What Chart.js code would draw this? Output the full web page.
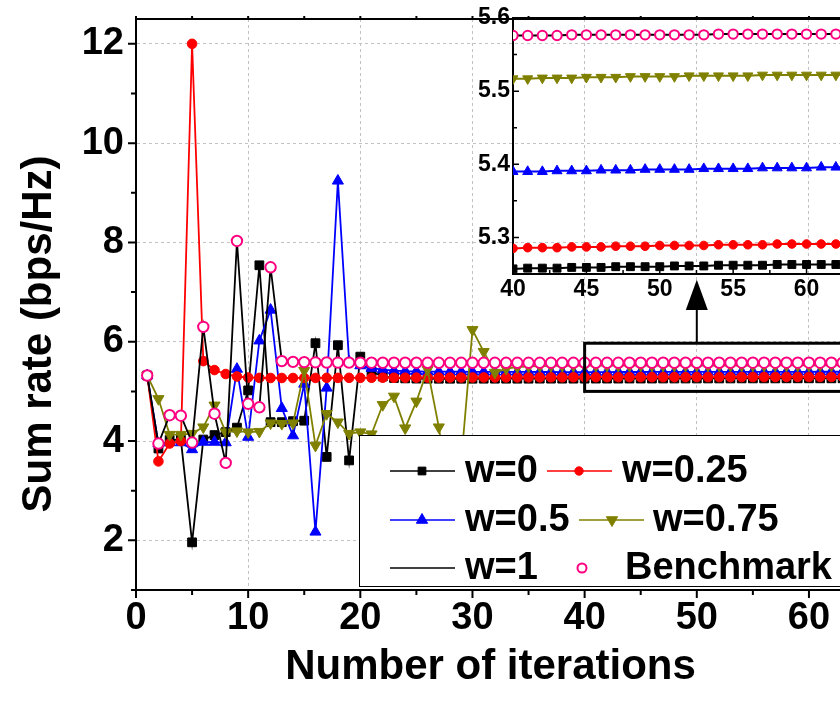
<!DOCTYPE html>
<html lang="en">
<head>
  <meta charset="utf-8" />
  <title>Sum rate vs number of iterations</title>
  <script src="https://cdn.jsdelivr.net/npm/chart.js"></script>
  <style>
    html, body { margin: 0; padding: 0; background: #fff; overflow: hidden; }
    .wrap { position: relative; width: 840px; height: 712px; overflow: hidden; }
    #mainChart { position: absolute; left: 0; top: 0; }
    #zoomChart { position: absolute; left: 430px; top: 0; }
  </style>
</head>
<body>
  <div class="wrap">
    <canvas id="mainChart" width="850" height="712"></canvas>
    <canvas id="zoomChart" width="442" height="320"></canvas>
  </div>

  <script>
    // data
    const iterations = [
      1, 2, 3, 4, 5, 6, 7, 8, 9, 10, 11, 12, 13, 14, 15, 16, 17, 18, 19, 20,
      21, 22, 23, 24, 25, 26, 27, 28, 29, 30, 31, 32, 33, 34, 35, 36, 37, 38, 39, 40,
      41, 42, 43, 44, 45, 46, 47, 48, 49, 50, 51, 52, 53, 54, 55, 56, 57, 58, 59, 60,
      61, 62, 63, 64
    ];
    const w0 = [
      5.32, 3.85, 4.02, 4.03, 1.96, 4.03, 4.12, 4.18, 4.27, 5.02,
      7.54, 4.38, 4.38, 4.40, 4.41, 5.97, 3.68, 5.93, 3.61, 5.70,
      5.40, 5.30, 5.27, 5.262, 5.258, 5.256, 5.255, 5.255, 5.255, 5.255,
      5.256, 5.256, 5.256, 5.256, 5.256, 5.257, 5.257, 5.257, 5.257, 5.257,
      5.258, 5.258, 5.258, 5.259, 5.259, 5.259, 5.260, 5.260, 5.260, 5.260,
      5.261, 5.261, 5.261, 5.262, 5.262, 5.262, 5.262, 5.263, 5.263, 5.263,
      5.263, 5.263, 5.264, 5.264
    ];
    const w025 = [
      5.32, 3.59, 3.95, 4.00, 12.0, 5.61, 5.43, 5.35, 5.30, 5.28,
      5.272, 5.270, 5.270, 5.270, 5.271, 5.271, 5.272, 5.272, 5.273, 5.273,
      5.274, 5.275, 5.275, 5.276, 5.277, 5.277, 5.278, 5.279, 5.279, 5.280,
      5.281, 5.281, 5.282, 5.282, 5.283, 5.283, 5.284, 5.284, 5.285, 5.285,
      5.286, 5.286, 5.286, 5.287, 5.287, 5.287, 5.288, 5.288, 5.288, 5.289,
      5.289, 5.289, 5.289, 5.290, 5.290, 5.290, 5.290, 5.291, 5.291, 5.291,
      5.291, 5.291, 5.292, 5.292
    ];
    const w05 = [
      5.32, 3.95, 3.97, 3.97, 3.83, 3.98, 3.98, 3.97, 5.45, 4.08,
      6.02, 6.64, 4.66, 4.11, 5.15, 2.17, 5.07, 9.24, 5.60, 5.52,
      5.47, 5.44, 5.42, 5.41, 5.405, 5.400, 5.398, 5.397, 5.396, 5.395,
      5.394, 5.393, 5.393, 5.392, 5.392, 5.391, 5.391, 5.390, 5.390, 5.390,
      5.390, 5.390, 5.391, 5.391, 5.391, 5.392, 5.392, 5.392, 5.393, 5.393,
      5.393, 5.393, 5.394, 5.394, 5.394, 5.394, 5.395, 5.395, 5.395, 5.395,
      5.396, 5.396, 5.396, 5.396
    ];
    const w075 = [
      5.32, 4.85, 4.13, 4.13, 4.15, 4.28, 4.72, 4.18, 4.20, 4.18,
      4.19, 4.36, 4.35, 4.36, 5.42, 3.91, 4.55, 4.38, 4.15, 4.18,
      4.14, 4.73, 4.90, 4.26, 4.80, 5.44, 4.28, 2.80, 3.60, 6.24,
      5.80, 5.38, 5.46, 5.49, 5.505, 5.510, 5.513, 5.515, 5.516, 5.517,
      5.517, 5.518, 5.518, 5.518, 5.519, 5.519, 5.519, 5.520, 5.520, 5.520,
      5.520, 5.521, 5.521, 5.521, 5.521, 5.521, 5.522, 5.522, 5.522, 5.522,
      5.522, 5.522, 5.523, 5.523
    ];
    const benchmark = [
      5.32, 3.95, 4.52, 4.51, 3.97, 6.30, 4.55, 3.56, 8.03, 4.75,
      4.68, 7.50, 5.61, 5.595, 5.59, 5.585, 5.582, 5.580, 5.579, 5.578,
      5.578, 5.577, 5.577, 5.577, 5.577, 5.576, 5.576, 5.576, 5.576, 5.576,
      5.576, 5.576, 5.576, 5.576, 5.576, 5.576, 5.576, 5.576, 5.576, 5.576,
      5.576, 5.576, 5.576, 5.577, 5.577, 5.577, 5.577, 5.577, 5.577, 5.577,
      5.577, 5.577, 5.577, 5.578, 5.578, 5.578, 5.578, 5.578, 5.578, 5.578,
      5.578, 5.578, 5.578, 5.578
    ];
    // the w=1 curve lies on the benchmark points
    const w1 = benchmark;

    const xTicksMain = [0, 10, 20, 30, 40, 50, 60];
    const yTicksMain = [2, 4, 6, 8, 10, 12];

    const FONT = '"Liberation Sans", Arial, Helvetica, sans-serif';
    Chart.defaults.font.family = FONT;
    Chart.defaults.font.weight = 'bold';
    Chart.defaults.color = '#000';

    const pts = arr => iterations.map((x, i) => ({ x: x, y: arr[i] }));

    function makeSets(big) {
      const k = big ? 1 : 0.9;
      const lw = big ? 1.8 : 2;
      return [
        { label: 'w=0', data: pts(w0), borderColor: '#000', backgroundColor: '#000',
          pointStyle: 'rect', pointRadius: 6.2 * k, borderWidth: lw, pointBorderWidth: 1, order: 5 },
        { label: 'w=0.25', data: pts(w025), borderColor: '#ff0000', backgroundColor: '#ff0000',
          pointStyle: 'circle', pointRadius: 4.8 * k, borderWidth: lw, pointBorderWidth: 1, order: 3 },
        { label: 'w=0.5', data: pts(w05), borderColor: '#0000ff', backgroundColor: '#0000ff',
          pointStyle: 'triangle', pointRadius: 6.4 * k, borderWidth: lw, pointBorderWidth: 1, order: 4 },
        { label: 'w=0.75', data: pts(w075), borderColor: '#808000', backgroundColor: '#808000',
          pointStyle: 'triangle', rotation: 180, pointRadius: 6.4 * k, borderWidth: lw, pointBorderWidth: 1, order: 2 },
        { label: 'w=1', data: pts(w1), borderColor: '#000', backgroundColor: '#000',
          pointRadius: 0, borderWidth: lw, order: 1 },
        { label: 'Benchmark', data: pts(benchmark), showLine: false, borderColor: '#ff0080',
          backgroundColor: '#fff', pointStyle: 'circle', pointRadius: 5.2 * k, pointBorderWidth: 2, order: 0 }
      ];
    }

    function marker(ctx, style, x, y, r, fill, stroke, lw, down) {
      ctx.beginPath();
      if (style === 'rect') {
        const h = r * Math.SQRT1_2;
        ctx.rect(x - h, y - h, 2 * h, 2 * h);
      } else if (style === 'triangle') {
        const s = down ? -1 : 1;
        ctx.moveTo(x, y - s * r);
        ctx.lineTo(x + 0.866 * r, y + s * 0.5 * r);
        ctx.lineTo(x - 0.866 * r, y + s * 0.5 * r);
        ctx.closePath();
      } else {
        ctx.arc(x, y, r, 0, Math.PI * 2);
      }
      ctx.fillStyle = fill;
      ctx.fill();
      ctx.lineWidth = lw;
      ctx.strokeStyle = stroke;
      ctx.stroke();
    }

    // frame, minor ticks, zoom box, arrow, legend and axis titles of the main plot
    const mainDecor = {
      id: 'mainDecor',
      afterDatasetsDraw(chart) {
        const ctx = chart.ctx, ca = chart.chartArea;
        const xs = chart.scales.x, ys = chart.scales.y;
        ctx.save();
        ctx.strokeStyle = '#000';
        ctx.lineWidth = 2;
        ctx.strokeRect(ca.left, ca.top, ca.right - ca.left, ca.bottom - ca.top);

        ctx.beginPath();
        xs.ticks.forEach(t => {
          if (t.value % 5 !== 0) return;
          const p = xs.getPixelForValue(t.value);
          const len = t.value % 10 === 0 ? 8 : 5;
          ctx.moveTo(p, ca.bottom); ctx.lineTo(p, ca.bottom + len);
          ctx.moveTo(p, ca.top); ctx.lineTo(p, ca.top - 3);
        });
        ys.ticks.forEach(t => {
          if (t.value % 1 !== 0) return;
          const p = ys.getPixelForValue(t.value);
          const len = t.value % 2 === 0 ? 8 : 5;
          ctx.moveTo(ca.left, p); ctx.lineTo(ca.left - len, p);
        });
        ctx.stroke();

        // zoomed region box and arrow
        const bx = xs.getPixelForValue(40), bt = ys.getPixelForValue(5.97), bb = ys.getPixelForValue(5.0);
        ctx.lineWidth = 3;
        ctx.strokeRect(bx, bt, ca.right + 20 - bx, bb - bt);
        const ax = xs.getPixelForValue(50);
        const tip = ys.getPixelForValue(7.25), base = ys.getPixelForValue(6.64);
        ctx.lineWidth = 2;
        ctx.beginPath();
        ctx.moveTo(ax, bt); ctx.lineTo(ax, base);
        ctx.stroke();
        ctx.beginPath();
        ctx.moveTo(ax, tip); ctx.lineTo(ax + 11, base); ctx.lineTo(ax - 11, base);
        ctx.closePath();
        ctx.fillStyle = '#000';
        ctx.fill();

        // legend box
        ctx.fillStyle = '#fff';
        ctx.fillRect(359, 435, 500, 151);
        ctx.lineWidth = 1;
        ctx.strokeRect(359.5, 435.5, 500, 151);
        const ds = chart.data.datasets;
        const spots = [
          { i: 0, l: 390, r: 455, m: 422, t: 465, y: 471 },
          { i: 1, l: 547, r: 612, m: 579, t: 622, y: 471 },
          { i: 2, l: 390, r: 455, m: 422, t: 465, y: 520 },
          { i: 3, l: 579, r: 644, m: 612, t: 653, y: 520 },
          { i: 4, l: 390, r: 455, m: null, t: 465, y: 568 },
          { i: 5, l: null, r: null, m: 582, t: 625, y: 568 }
        ];
        ctx.font = 'bold 38px ' + FONT;
        ctx.textBaseline = 'middle';
        ctx.textAlign = 'left';
        spots.forEach(s => {
          const d = ds[s.i];
          if (s.l !== null) {
            ctx.beginPath();
            ctx.moveTo(s.l, s.y); ctx.lineTo(s.r, s.y);
            ctx.lineWidth = 1.5;
            ctx.strokeStyle = d.borderColor;
            ctx.stroke();
          }
          if (s.m !== null) {
            const st = d.pointStyle;
            const r = st === 'rect' ? 5.5 : st === 'triangle' ? 6.5 : d.showLine === false ? 4.5 : 4.2;
            const fill = d.showLine === false ? '#fff' : d.backgroundColor;
            marker(ctx, st, s.m, s.y, r, fill, d.borderColor, d.showLine === false ? 2 : 1, d.rotation === 180);
          }
          ctx.fillStyle = '#000';
          ctx.fillText(d.label, s.t, s.y + 1);
        });

        // axis titles
        ctx.font = 'bold 42px ' + FONT;
        ctx.textAlign = 'center';
        ctx.fillText('Number of iterations', (ca.left + 845) / 2, 667);
        ctx.translate(39, 334);
        ctx.rotate(-Math.PI / 2);
        ctx.fillText('Sum rate (bps/Hz)', 0, 0);
        ctx.restore();
      }
    };

    new Chart(document.getElementById('mainChart'), {
      type: 'line',
      data: { datasets: makeSets(true) },
      options: {
        responsive: false,
        animation: false,
        devicePixelRatio: 1,
        layout: { padding: { top: 19, right: 5, left: 0, bottom: 0 } },
        elements: { line: { tension: 0 } },
        plugins: { legend: { display: false }, tooltip: { enabled: false } },
        scales: {
          x: {
            type: 'linear', min: 0, max: 63,
            afterFit: s => { s.height = 122; s.paddingLeft = 0; s.paddingRight = 0; },
            ticks: {
              stepSize: 5, padding: 6, autoSkip: false, maxRotation: 0, includeBounds: false,
              font: { size: 38, weight: 'bold' },
              callback: v => xTicksMain.includes(v) ? String(v) : ''
            },
            grid: {
              drawTicks: false, lineWidth: 1,
              color: c => (c.tick && c.tick.value > 0 && xTicksMain.includes(c.tick.value)) ? '#c2c2c2' : 'rgba(0,0,0,0)'
            },
            border: { display: true, color: '#000', width: 2, dash: [3, 3] }
          },
          y: {
            min: 1, max: 12.5,
            afterFit: s => { s.width = 136; s.paddingTop = 0; s.paddingBottom = 0; },
            ticks: {
              stepSize: 1, padding: 12, autoSkip: false, includeBounds: false,
              font: { size: 38, weight: 'bold' },
              callback: v => yTicksMain.includes(v) ? String(v) : ''
            },
            grid: {
              drawTicks: false, lineWidth: 1,
              color: c => (c.tick && yTicksMain.includes(c.tick.value)) ? '#c2c2c2' : 'rgba(0,0,0,0)'
            },
            border: { display: true, color: '#000', width: 2, dash: [3, 3] }
          }
        }
      },
      plugins: [mainDecor]
    });

    // inward ticks and top line of the inset
    const zoomDecor = {
      id: 'zoomDecor',
      afterDatasetsDraw(chart) {
        const ctx = chart.ctx, ca = chart.chartArea;
        const xs = chart.scales.x, ys = chart.scales.y;
        ctx.save();
        ctx.strokeStyle = '#000';
        ctx.lineWidth = 2;
        ctx.beginPath();
        ctx.moveTo(ca.left, ca.top); ctx.lineTo(ca.right + 5, ca.top);
        ctx.stroke();
        ctx.lineWidth = 1.5;
        ctx.beginPath();
        xs.ticks.forEach(t => {
          const k = Math.round(t.value * 10);
          if (k % 25 !== 0) return;
          const p = xs.getPixelForValue(t.value);
          const len = k % 50 === 0 ? 6 : 4;
          ctx.moveTo(p, ca.bottom); ctx.lineTo(p, ca.bottom - len);
        });
        ys.ticks.forEach(t => {
          const k = Math.round(t.value * 100);
          if (k % 5 !== 0) return;
          const p = ys.getPixelForValue(t.value);
          const len = k % 10 === 0 ? 6 : 4;
          ctx.moveTo(ca.left, p); ctx.lineTo(ca.left + len, p);
        });
        ctx.stroke();
        ctx.restore();
      }
    };

    new Chart(document.getElementById('zoomChart'), {
      type: 'line',
      data: { datasets: makeSets(false) },
      options: {
        responsive: false,
        animation: false,
        devicePixelRatio: 1,
        layout: { padding: { top: 18, right: 0, left: 0, bottom: 0 } },
        elements: { line: { tension: 0 } },
        plugins: { legend: { display: false }, tooltip: { enabled: false } },
        scales: {
          x: {
            type: 'linear', min: 40, max: 64,
            afterFit: s => { s.height = 46; s.paddingLeft = 0; s.paddingRight = 0; },
            ticks: {
              stepSize: 2.5, padding: 2, autoSkip: false, maxRotation: 0, includeBounds: false,
              font: { size: 23, weight: 'bold' },
              callback: v => (Math.round(v * 10) % 50 === 0) ? String(v) : ''
            },
            grid: { display: false, drawTicks: false },
            border: { display: true, color: '#000', width: 2 }
          },
          y: {
            min: 5.25, max: 5.6,
            afterFit: s => { s.width = 83; s.paddingTop = 0; s.paddingBottom = 0; },
            ticks: {
              stepSize: 0.05, padding: 3, autoSkip: false,
              font: { size: 23, weight: 'bold' },
              callback: v => {
                const k = Math.round(v * 100);
                return k % 10 === 0 ? (k / 100).toFixed(1) : '';
              }
            },
            grid: { display: false, drawTicks: false },
            border: { display: true, color: '#000', width: 2 }
          }
        }
      },
      plugins: [zoomDecor]
    });
  </script>
</body>
</html>
